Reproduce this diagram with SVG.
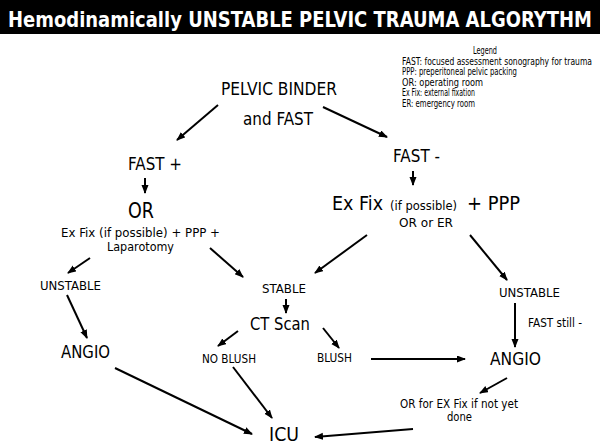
<svg xmlns="http://www.w3.org/2000/svg" width="600" height="444" viewBox="0 0 600 444">
<defs>
<marker id="ah" markerUnits="userSpaceOnUse" markerWidth="10" markerHeight="8" refX="8" refY="3.5" orient="auto">
<path d="M0,0 L9,3.5 L0,7 z" fill="#000"/>
</marker>
<style>
text{font-family:"DejaVu Sans","Liberation Sans",sans-serif;fill:#000}
.t{font-weight:bold;fill:#fff;font-size:22px}
.lg{font-size:10.5px}
.m{font-size:17.5px}
.s{font-size:12.5px}
.xs{font-size:12px}
.b{font-size:20px}
.c line{stroke:#000;stroke-width:2;marker-end:url(#ah)}
</style>
</defs>
<rect width="600" height="444" fill="#fff"/>
<g id="title">
<rect x="0" y="0" width="600" height="34" fill="#000"/>
<text class="t" x="8" y="27" textLength="584" lengthAdjust="spacingAndGlyphs">Hemodinamically UNSTABLE PELVIC TRAUMA ALGORYTHM</text>
</g>
<g id="legend">
<text class="lg" x="473" y="54" textLength="24" lengthAdjust="spacingAndGlyphs">Legend</text>
<text class="lg" x="402" y="64.5" textLength="190" lengthAdjust="spacingAndGlyphs">FAST: focused assessment sonography for trauma</text>
<text class="lg" x="402" y="75" textLength="115" lengthAdjust="spacingAndGlyphs">PPP: preperitoneal pelvic packing</text>
<text class="lg" x="402" y="85.5" textLength="81" lengthAdjust="spacingAndGlyphs">OR: operating room</text>
<text class="lg" x="402" y="96" textLength="73" lengthAdjust="spacingAndGlyphs">Ex Fix: external fixation</text>
<text class="lg" x="402" y="106.5" textLength="73" lengthAdjust="spacingAndGlyphs">ER: emergency room</text>
</g>
<g id="binder">
<text class="m" x="221" y="95" textLength="116" lengthAdjust="spacingAndGlyphs">PELVIC BINDER</text>
<text class="m" x="243" y="125" textLength="70" lengthAdjust="spacingAndGlyphs">and FAST</text>
</g>
<g id="fastpos"><text class="m" x="128" y="170" textLength="54" lengthAdjust="spacingAndGlyphs">FAST +</text></g>
<g id="fastneg"><text class="m" x="393" y="162" textLength="47" lengthAdjust="spacingAndGlyphs">FAST -</text></g>
<g id="or">
<text style="font-size:21px" x="128" y="218" textLength="26" lengthAdjust="spacingAndGlyphs">OR</text>
<text class="s" x="61" y="237" textLength="159" lengthAdjust="spacingAndGlyphs">Ex Fix (if possible) + PPP +</text>
<text class="s" x="107" y="250.5" textLength="67" lengthAdjust="spacingAndGlyphs">Laparotomy</text>
</g>
<g id="exfix">
<text class="b" x="332" y="210" textLength="51" lengthAdjust="spacingAndGlyphs">Ex Fix</text>
<text class="s" x="390" y="210" textLength="67" lengthAdjust="spacingAndGlyphs">(if possible)</text>
<text class="b" x="467" y="210" textLength="53" lengthAdjust="spacingAndGlyphs">+ PPP</text>
<text class="s" x="399" y="227" textLength="54" lengthAdjust="spacingAndGlyphs">OR or ER</text>
</g>
<g id="unstableL"><text class="s" x="40" y="290" textLength="61" lengthAdjust="spacingAndGlyphs">UNSTABLE</text></g>
<g id="stable"><text class="s" x="262" y="293" textLength="44" lengthAdjust="spacingAndGlyphs">STABLE</text></g>
<g id="unstableR"><text class="s" x="499" y="297" textLength="61" lengthAdjust="spacingAndGlyphs">UNSTABLE</text></g>
<g id="ct"><text class="m" x="250" y="330" textLength="60" lengthAdjust="spacingAndGlyphs">CT Scan</text></g>
<g id="faststill"><text class="xs" x="528" y="327" textLength="54" lengthAdjust="spacingAndGlyphs">FAST still -</text></g>
<g id="angioL"><text class="m" x="61" y="358" textLength="49" lengthAdjust="spacingAndGlyphs">ANGIO</text></g>
<g id="noblush"><text class="xs" x="202" y="363" textLength="54" lengthAdjust="spacingAndGlyphs">NO BLUSH</text></g>
<g id="blush"><text class="xs" x="317" y="362" textLength="35" lengthAdjust="spacingAndGlyphs">BLUSH</text></g>
<g id="angioR"><text class="m" x="490" y="365" textLength="51" lengthAdjust="spacingAndGlyphs">ANGIO</text></g>
<g id="orexfix">
<text class="xs" x="400" y="407.5" textLength="118" lengthAdjust="spacingAndGlyphs">OR for EX Fix if not yet</text>
<text class="xs" x="447" y="420.5" textLength="25" lengthAdjust="spacingAndGlyphs">done</text>
</g>
<g id="icu"><text style="font-size:20px" x="269" y="441" textLength="30" lengthAdjust="spacingAndGlyphs">ICU</text></g>
<g id="connectors" class="c">
<line x1="218" y1="105" x2="177" y2="140"/>
<line x1="323" y1="107" x2="387" y2="137"/>
<line x1="145" y1="178" x2="145" y2="193"/>
<line x1="413" y1="171" x2="413" y2="185"/>
<line x1="90" y1="258" x2="68" y2="273"/>
<line x1="210" y1="248" x2="243" y2="277"/>
<line x1="367" y1="235" x2="315" y2="273"/>
<line x1="470" y1="235" x2="507" y2="280"/>
<line x1="67" y1="295" x2="87" y2="338"/>
<line x1="286" y1="299" x2="286" y2="313"/>
<line x1="238" y1="331" x2="218" y2="346"/>
<line x1="323" y1="328" x2="339" y2="348"/>
<line x1="515" y1="303" x2="515" y2="347"/>
<line x1="371" y1="359" x2="465" y2="359"/>
<line x1="507" y1="378" x2="480" y2="393"/>
<line x1="115" y1="368" x2="252" y2="434"/>
<line x1="233" y1="367" x2="272" y2="418"/>
<line x1="413" y1="429" x2="315" y2="437"/>
</g>
</svg>
